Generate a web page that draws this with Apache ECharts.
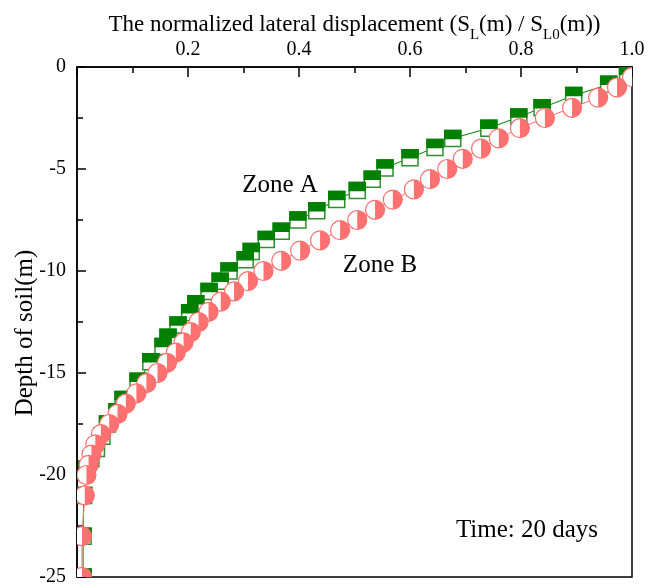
<!DOCTYPE html>
<html>
<head>
<meta charset="utf-8">
<script src="https://cdn.jsdelivr.net/npm/echarts@6/dist/echarts.min.js"></script>
<style>
html,body{margin:0;padding:0;background:#fff;}
#chart{width:648px;height:587px;}
</style>
</head>
<body>
<div id="chart"></div>
<script>
// ---- data ----
const zoneADepth = [-0.35,-0.85,-1.4,-2.0,-2.45,-3.0,-3.5,-3.95,-4.45,-4.95,-5.5,-6.05,-6.5,-7.05,-7.5,-8.05,-8.45,-9.05,-9.45,-10.0,-10.5,-11.0,-11.6,-12.05,-12.65,-13.25,-13.7,-14.45,-15.4,-16.3,-16.9,-17.5,-18.1,-18.7,-19.2,-19.7,-21.0,-23.0,-25.0];
const zoneAValue = [0.992,0.958,0.895,0.838,0.796,0.742,0.677,0.645,0.600,0.555,0.532,0.505,0.468,0.432,0.398,0.368,0.341,0.314,0.303,0.274,0.258,0.238,0.214,0.203,0.182,0.164,0.155,0.133,0.110,0.083,0.072,0.055,0.045,0.035,0.025,0.018,0.012,0.011,0.011];

const zoneBDepth = [-0.5,-1.0,-1.5,-2.0,-2.5,-3.0,-3.5,-4.0,-4.5,-5.0,-5.5,-6.0,-6.5,-7.0,-7.5,-8.0,-8.5,-9.0,-9.5,-10.0,-10.5,-11.0,-11.5,-12.0,-12.5,-13.0,-13.5,-14.0,-14.5,-15.0,-15.5,-16.0,-16.5,-17.0,-17.5,-18.0,-18.5,-19.0,-19.5,-20.0,-21.0,-23.0,-25.0];
const zoneBValue = [1.000,0.973,0.939,0.892,0.843,0.798,0.760,0.728,0.695,0.667,0.636,0.607,0.569,0.537,0.505,0.474,0.438,0.402,0.368,0.336,0.308,0.283,0.259,0.237,0.219,0.205,0.192,0.178,0.162,0.145,0.125,0.107,0.088,0.073,0.058,0.043,0.033,0.026,0.021,0.017,0.014,0.009,0.009];

const xMin = 0, xMax = 1.0, xInterval = 0.2;
const yMin = -25, yMax = 0, yInterval = 5;

const seriesNames = ['Zone A', 'Zone B'];
const timeLabel = 'Time: 20 days';
const xTitleParts = ['The normalized lateral displacement (S', 'L', '(m) / S', 'L0', '(m))'];
const yTitle = 'Depth of soil(m)';

// ---- chart ----
const FONT = '"Liberation Serif", "Times New Roman", serif';
const GREEN = '#008000';
const PINK = '#ff7070';

const pairsA = zoneAValue.map((v, i) => [v, zoneADepth[i]]);
const pairsB = zoneBValue.map((v, i) => [v, zoneBDepth[i]]);

function squareMarker(params, api) {
  const p = api.coord([api.value(0), api.value(1)]);
  const s = 16;
  return {
    type: 'group',
    children: [
      { type: 'rect', shape: { x: p[0] - s / 2, y: p[1] - s / 2, width: s, height: s },
        style: { fill: '#fff', stroke: '#2f8f2f', lineWidth: 1.5 } },
      { type: 'rect', shape: { x: p[0] - s / 2, y: p[1] - s / 2, width: s, height: s / 2 },
        style: { fill: GREEN, stroke: GREEN, lineWidth: 1.5 } }
    ]
  };
}
function circleMarker(params, api) {
  const p = api.coord([api.value(0), api.value(1)]);
  const r = 9.5;
  return {
    type: 'group',
    children: [
      { type: 'circle', shape: { cx: p[0], cy: p[1], r: r },
        style: { fill: '#fff', stroke: PINK, lineWidth: 1.2 } },
      { type: 'sector', shape: { cx: p[0], cy: p[1], r0: 0, r: r, startAngle: -Math.PI / 2, endAngle: Math.PI / 2, clockwise: true },
        style: { fill: PINK } }
    ]
  };
}

const xName = '{a|' + xTitleParts[0] + '}{sub|' + xTitleParts[1] + '}{a|' + xTitleParts[2] + '}{sub|' + xTitleParts[3] + '}{a|' + xTitleParts[4] + '}';

const chart = echarts.init(document.getElementById('chart'), null, { renderer: 'canvas' });
chart.setOption({
  animation: false,
  backgroundColor: '#fff',
  grid: { left: 77, right: 16, top: 67, bottom: 10, show: true, borderColor: '#000', borderWidth: 1.5, backgroundColor: 'transparent' },
  xAxis: {
    type: 'value', position: 'top', min: xMin, max: xMax, interval: xInterval,
    name: xName, nameLocation: 'middle', nameGap: 24, nameMoveOverlap: false,
    nameTextStyle: {
      rich: {
        a: { fontFamily: FONT, fontSize: 23, color: '#000', padding: [0, 0, 7, 0], verticalAlign: 'bottom' },
        sub: { fontFamily: FONT, fontSize: 15, color: '#000', verticalAlign: 'bottom' }
      }
    },
    axisLine: { show: true, onZero: false, lineStyle: { color: '#000', width: 1.5 } },
    axisTick: { show: true, inside: true, length: 10, lineStyle: { color: '#000', width: 1.5 } },
    minorTick: { show: true, splitNumber: 2, length: 6, lineStyle: { color: '#000', width: 1.5 } },
    axisLabel: { fontFamily: FONT, fontSize: 20, color: '#000', margin: 7,
      formatter: v => (v === 0 ? '' : v.toFixed(1)) },
    splitLine: { show: false }
  },
  yAxis: {
    type: 'value', min: yMin, max: yMax, interval: yInterval,
    name: yTitle, nameLocation: 'middle', nameGap: 39, nameRotate: 90, nameMoveOverlap: false,
    nameTextStyle: { fontFamily: FONT, fontSize: 25, color: '#000', padding: [0, 22, 0, 0] },
    axisLine: { show: true, onZero: false, lineStyle: { color: '#000', width: 1.5 } },
    axisTick: { show: true, inside: true, length: 9, lineStyle: { color: '#000', width: 1.5 } },
    minorTick: { show: true, splitNumber: 2, length: 6, lineStyle: { color: '#000', width: 1.5 } },
    axisLabel: { fontFamily: FONT, fontSize: 20, color: '#000', margin: 11 },
    splitLine: { show: false }
  },
  series: [
    { name: seriesNames[0] + ' line', type: 'line', data: pairsA, showSymbol: false, symbol: 'none',
      lineStyle: { color: GREEN, width: 1 }, clip: true, z: 2 },
    { name: seriesNames[0], type: 'custom', data: pairsA, renderItem: squareMarker, clip: true, z: 3 },
    { name: seriesNames[1] + ' line', type: 'line', data: pairsB, showSymbol: false, symbol: 'none',
      lineStyle: { color: PINK, width: 1 }, clip: true, z: 4 },
    { name: seriesNames[1], type: 'custom', data: pairsB, renderItem: circleMarker, clip: true, z: 5 }
  ],
  graphic: [
    { type: 'text', x: 280, y: 185, style: { text: seriesNames[0], font: '25px ' + FONT, fill: '#000', align: 'center', verticalAlign: 'middle' } },
    { type: 'text', x: 380, y: 265, style: { text: seriesNames[1], font: '25px ' + FONT, fill: '#000', align: 'center', verticalAlign: 'middle' } },
    { type: 'text', x: 527, y: 530, style: { text: timeLabel, font: '25px ' + FONT, fill: '#000', align: 'center', verticalAlign: 'middle' } }
  ]
});
</script>
</body>
</html>
